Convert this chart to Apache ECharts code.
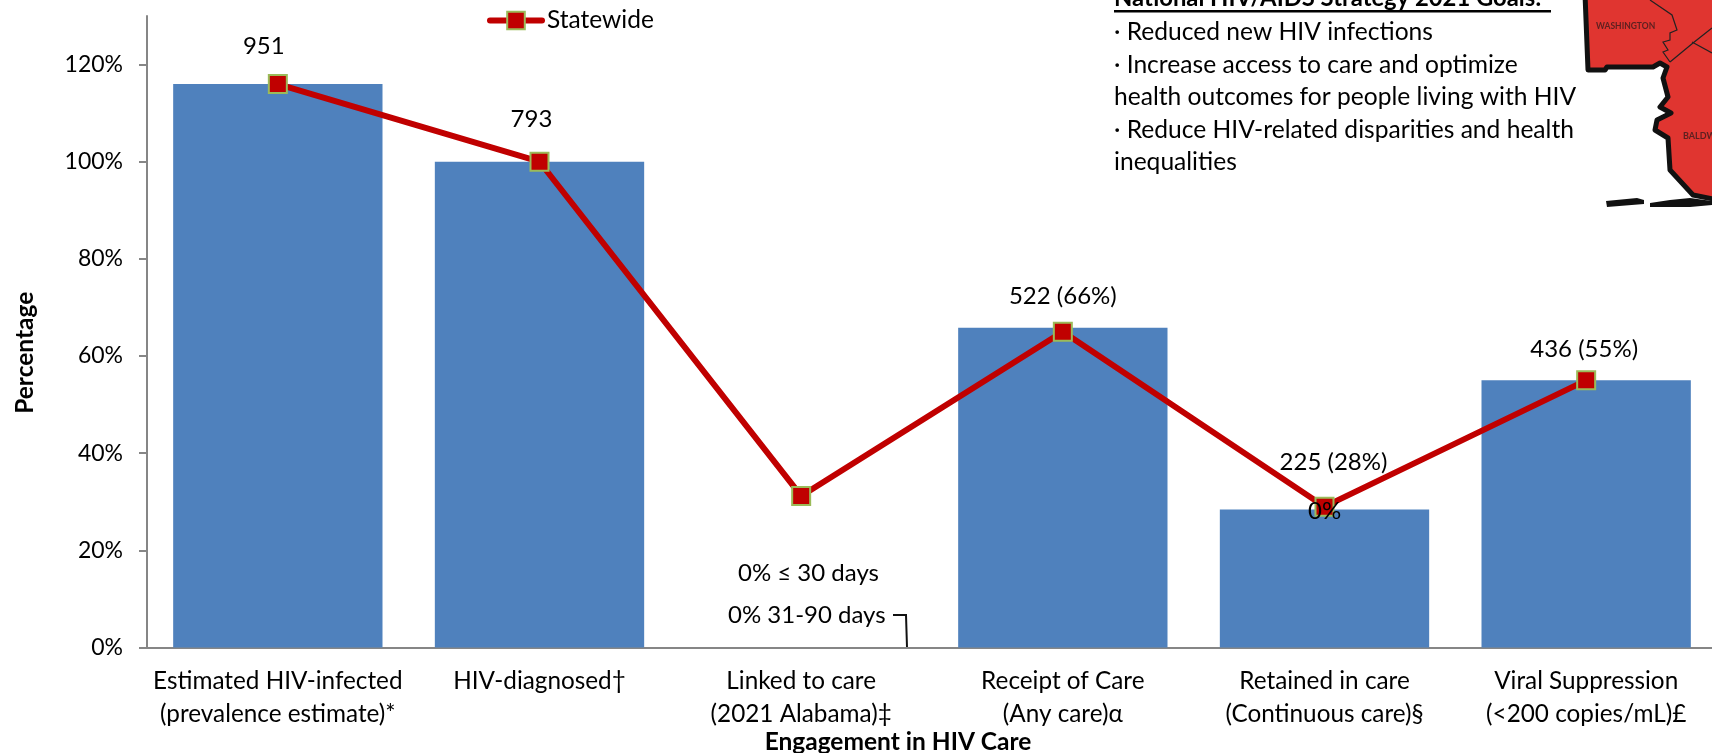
<!DOCTYPE html>
<html>
<head>
    <meta charset="utf-8">
    <title>HIV care continuum</title>
    <script src="https://cdn.jsdelivr.net/npm/echarts@6/dist/echarts.min.js"></script>
    <style>
        html, body { margin: 0; padding: 0; background: #fff; overflow: hidden; }
    </style>
</head>
<body>
    <div id="main" style="width: 1712px;height:753px;"></div>
    <script type="text/javascript">
        var categories = ["Estimated HIV-infected\n(prevalence estimate)*", "HIV-diagnosed†\n ", "Linked to care\n(2021 Alabama)‡", "Receipt of Care\n(Any care)α", "Retained in care\n(Continuous care)§", "Viral Suppression\n(<200 copies/mL)£"];
        var barValues = [116, 100, 0, 65.8, 28.4, 55];
        var lineValues = [116, 100, 31.2, 65, 29, 55];
        var barLabels = ["951", "793", "", "522 (66%)", "225 (28%)", "436 (55%)"];
        var yTicks = [0, 20, 40, 60, 80, 100, 120];
        var goals = ["· Reduced new HIV infections", "· Increase access to care and optimize", "health outcomes for people living with HIV", "· Reduce HIV-related disparities and health", "inequalities"];

        var fontName = "Lato";
        var textColor = '#000';
        var myChart = echarts.init(document.getElementById('main'));

        // 数据标签的偏移
        var labelOffsets = [[-14, -21], [-8, -25], [0, 0], [0, -15], [9, -30], [-2, -14]];

        var goalTexts = goals.map(function(t, i) {
            return {
                type: 'text',
                left: 1114,
                top: 20 + i * 32.5,
                style: { text: t, font: '24.6px ' + fontName, fill: textColor }
            };
        });

        // 右上角地图
        var mapOutline = [[1585, -6], [1588, 70], [1605, 70], [1607, 67], [1653, 67], [1660, 63], [1667, 67], [1663, 78], [1668, 97], [1660, 107], [1671, 113], [1657, 120], [1655, 130], [1668, 138], [1670, 170], [1693, 195], [1718, 200], [1718, -6]];
        var mapInner = [
            [[1650, 0], [1672, 15], [1677, 30], [1670, 33], [1670, 40], [1663, 42], [1668, 50], [1663, 52], [1670, 62]],
            [[1670, 62], [1693, 43], [1712, 28]],
            [[1692, 42], [1712, 53]]
        ];
        var mapGraphics = [
            { type: 'polygon', shape: { points: mapOutline }, style: { fill: '#e03530', stroke: '#111', lineWidth: 5, lineJoin: 'round' } },
            { type: 'polygon', shape: { points: [[1606, 201], [1637, 198], [1644, 200], [1644, 204], [1607, 207]] }, style: { fill: '#111' } },
            { type: 'polygon', shape: { points: [[1650, 203], [1670, 200], [1690, 198], [1712, 201], [1712, 205], [1690, 207], [1650, 207]] }, style: { fill: '#111' } },
            { type: 'text', left: 1596, top: 22, style: { text: 'WASHINGTON', font: 'bold 8.5px ' + fontName, fill: '#5e2020' } },
            { type: 'text', left: 1683, top: 132, style: { text: 'BALDWIN', font: 'bold 9px ' + fontName, fill: '#5e2020' } }
        ].concat(mapInner.map(function(pts) {
            return { type: 'polyline', shape: { points: pts }, style: { stroke: '#222', lineWidth: 1.2, fill: null } };
        }));

        var option = {
            animation: false,
            legend: {
                left: 482,
                top: 3,
                itemWidth: 52,
                itemHeight: 22,
                textStyle: { fontFamily: fontName, fontSize: 24.5, color: textColor },
                lineStyle: { width: 6, cap: 'round' },
                data: ['Statewide']
            },
            grid: { left: 147, top: 16, width: 1570, height: 631.5, outerBoundsMode: 'none' },
            xAxis: {
                type: 'category',
                data: categories,
                name: 'Engagement in HIV Care',
                nameLocation: 'center',
                nameGap: 82,
                nameMoveOverlap: false,
                nameTextStyle: { fontFamily: fontName, fontWeight: 'bold', fontSize: 24.5, color: textColor, padding: [0, 68, 0, 0] },
                axisLine: { lineStyle: { color: '#868686', width: 2 } },
                axisTick: { length: 8, lineStyle: { color: '#868686', width: 2 } },
                axisLabel: { fontFamily: fontName, fontSize: 24.3, color: textColor, lineHeight: 33, margin: 17, interval: 0 }
            },
            yAxis: {
                type: 'value',
                min: 0,
                max: 130,
                name: 'Percentage',
                nameLocation: 'center',
                nameGap: 109,
                nameMoveOverlap: false,
                nameTextStyle: { fontFamily: fontName, fontWeight: 'bold', fontSize: 24.5, color: textColor, padding: [0, 42, 0, 0] },
                splitLine: { show: false },
                axisLine: { show: true, lineStyle: { color: '#868686', width: 2 } },
                axisTick: { show: true, length: 8, customValues: yTicks, lineStyle: { color: '#868686', width: 2 } },
                axisLabel: {
                    fontFamily: fontName, fontSize: 23, color: textColor, margin: 24,
                    customValues: yTicks,
                    formatter: '{value}%'
                }
            },
            series: [{
                name: 'Bars',
                type: 'bar',
                data: barValues,
                barWidth: '80%',
                itemStyle: { color: '#4f81bd' },
                label: {
                    show: true,
                    position: 'top',
                    fontFamily: fontName,
                    fontSize: 24,
                    color: textColor,
                    formatter: function(p) { return barLabels[p.dataIndex]; }
                },
                labelLayout: function(p) {
                    return { dx: labelOffsets[p.dataIndex][0], dy: labelOffsets[p.dataIndex][1] };
                }
            }, {
                name: 'Statewide',
                type: 'line',
                data: lineValues,
                symbol: 'rect',
                symbolSize: 18,
                lineStyle: { color: '#c00000', width: 6 },
                itemStyle: { color: '#c00000', borderColor: '#9bbb59', borderWidth: 2 },
                z: 5
            }],
            graphic: [
                // 第三列的标注
                { type: 'text', left: 738, top: 561, style: { text: '0% ≤ 30 days', font: '24px ' + fontName, fill: textColor }, z: 10 },
                { type: 'text', left: 728, top: 603, style: { text: '0% 31-90 days', font: '24px ' + fontName, fill: textColor }, z: 10 },
                { type: 'polyline', shape: { points: [[893, 615], [906, 615], [907, 647]] }, style: { stroke: '#111', lineWidth: 2, fill: null }, z: 10 },
                { type: 'text', left: 1308, top: 499, style: { text: '0%', font: '24px ' + fontName, fill: textColor }, z: 10 },
                // 右上角文字
                { type: 'text', left: 1114, top: -14, style: { text: 'National HIV/AIDS Strategy 2021 Goals:', font: 'bold 23.8px ' + fontName, fill: textColor } },
                { type: 'rect', shape: { x: 1114, y: 10, width: 437, height: 2.5 }, style: { fill: '#000' } }
            ].concat(goalTexts).concat(mapGraphics)
        };

        myChart.setOption(option);
    </script>
</body>
</html>
